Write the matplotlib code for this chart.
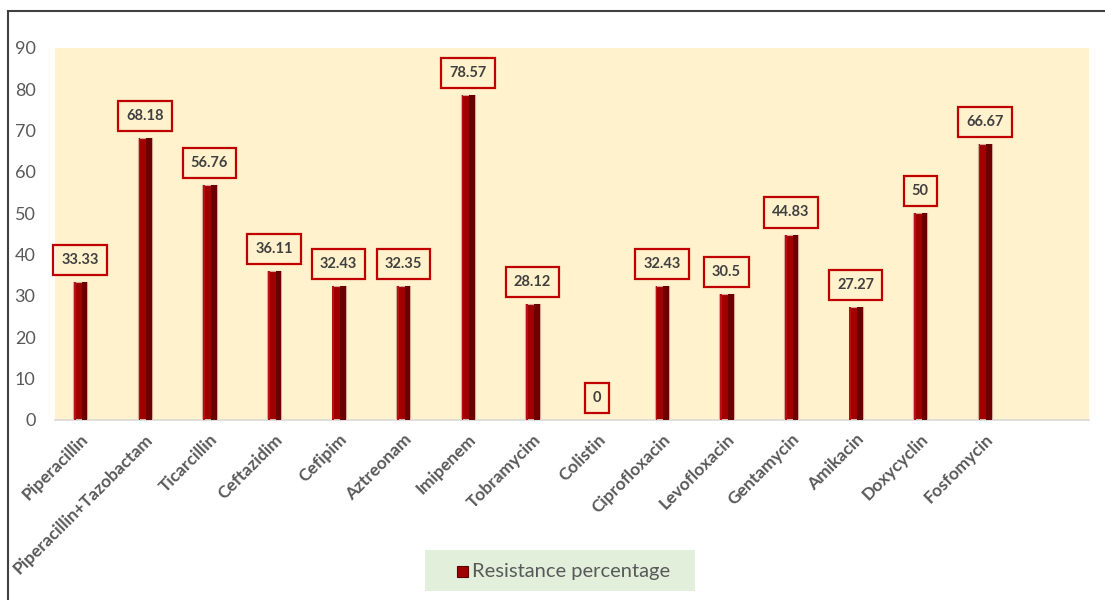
import matplotlib
matplotlib.use("Agg")
import matplotlib.pyplot as plt
from matplotlib.patches import Rectangle
import numpy as np

categories = ["Piperacillin", "Piperacillin+Tazobactam", "Ticarcillin", "Ceftazidim",
              "Cefipim", "Aztreonam", "Imipenem", "Tobramycim", "Colistin",
              "Ciprofloxacin", "Levofloxacin", "Gentamycin", "Amikacin",
              "Doxycyclin", "Fosfomycin"]
values = [33.33, 68.18, 56.76, 36.11, 32.43, 32.35, 78.57, 28.12, 0,
          32.43, 30.5, 44.83, 27.27, 50, 66.67]
value_labels = ["33.33", "68.18", "56.76", "36.11", "32.43", "32.35", "78.57", "28.12", "0",
                "32.43", "30.5", "44.83", "27.27", "50", "66.67"]
yticks = [0, 10, 20, 30, 40, 50, 60, 70, 80, 90]
series_name = "Resistance percentage"

plt.rcParams['font.family'] = ['Lato', 'DejaVu Sans']

W, H = 1105, 600
fig = plt.figure(figsize=(W / 100, H / 100), dpi=100)

# figure border lines (top and left)
fig.add_artist(plt.Line2D([8 / W, 1.0], [1 - 11 / H, 1 - 11 / H], color='#404040', lw=1.5))
fig.add_artist(plt.Line2D([8 / W, 8 / W], [0, 1 - 11 / H], color='#404040', lw=1.5))

ax = fig.add_axes([55 / W, 1 - 420 / H, (1089 - 55) / W, (420 - 48) / H])
ax.set_facecolor('#FFF2CC')

x = np.arange(len(categories))
bw = 0.22
ax.bar(x, values, width=bw, color='#A00000', edgecolor='#D8A8A0', linewidth=0.8, zorder=2)
ax.bar(x + bw * 0.3, values, width=bw * 0.4, color='#6A0000', linewidth=0, zorder=3)
ax.bar(x - bw * 0.38, values, width=bw * 0.12, color='#B81010', linewidth=0, zorder=3)

ax.set_xlim(-0.39, 15.61)
ax.set_ylim(0, 90)
ax.set_yticks(yticks)
ax.set_yticklabels([str(t) for t in yticks], fontsize=13, color='#595959')
ax.set_xticks(x)
ax.set_xticklabels(categories, rotation=45, ha='right', rotation_mode='anchor',
                   fontsize=12.5, fontweight='bold', color='#595959')
ax.tick_params(axis='both', length=0)
ax.tick_params(axis='y', pad=14)
ax.tick_params(axis='x', pad=8)
for s in ['top', 'right', 'left']:
    ax.spines[s].set_visible(False)
ax.spines['bottom'].set_color('#D9D9D9')
ax.spines['bottom'].set_linewidth(1.2)

for xi, v, lab in zip(x, values, value_labels):
    ax.annotate(lab, (xi, v), xytext=(0, 16), textcoords='offset points',
                ha='center', va='center', fontsize=10.5, fontweight='bold', color='#404040',
                bbox=dict(boxstyle='square,pad=0.55', fc='none', ec='#C00000', lw=1.6),
                zorder=5)

# legend box
lx0, ly0, lx1, ly1 = 425, 550, 695, 591
fig.add_artist(Rectangle((lx0 / W, 1 - ly1 / H), (lx1 - lx0) / W, (ly1 - ly0) / H,
                         transform=fig.transFigure, fc='#E2EFDA', ec='none'))
fig.add_artist(Rectangle((457 / W, 1 - 577 / H), 11 / W, 11 / H,
                         transform=fig.transFigure, fc='#A00000', ec='#600000', lw=0.8))
fig.text(472 / W, 1 - 571 / H, series_name, fontsize=14.5, color='#595959', va='center', ha='left')

fig.savefig('out.png', dpi=100)
